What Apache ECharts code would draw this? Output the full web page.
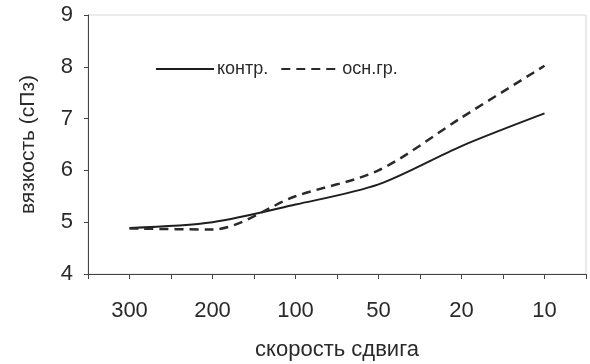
<!DOCTYPE html>
<html>
<head>
<meta charset="utf-8">
<script src="https://cdn.jsdelivr.net/npm/echarts@6/dist/echarts.min.js"></script>
<style>
  html, body { margin: 0; padding: 0; background: #fff; }
  #chart { width: 590px; height: 364px; }
</style>
</head>
<body>
<div id="chart"></div>
<script>
// скорость сдвига (категории)
const shearRates = ['300', '200', '100', '50', '20', '10']
// вязкость, сПз
const controlValues = [4.89, 5.0, 5.34, 5.73, 6.47, 7.1]
const mainValues = [4.88, 4.86, 5.5, 6.0, 7.02, 8.02]
const seriesNames = ['контр.', 'осн.гр.']

const font = 'Liberation Sans, Arial, sans-serif'
const axisColor = '#444'
const textColor = '#2a2a2a'

const chart = echarts.init(document.getElementById('chart'))

const option = {
  animation: false,
  backgroundColor: '#fff',
  textStyle: { fontFamily: font },
  grid: {
    left: 88,
    right: 4,
    top: 15,
    bottom: 90,
    containLabel: false,
    outerBoundsMode: 'none',
    show: true,
    borderColor: '#d8d8d8',
    borderWidth: 1
  },
  legend: {
    left: 150,
    top: 55,
    itemWidth: 58,
    itemHeight: 20,
    itemGap: 12,
    itemStyle: { opacity: 0 },
    textStyle: { fontSize: 18, color: textColor, fontFamily: font, padding: [0, 0, 0, -2] },
    data: seriesNames
  },
  xAxis: [
    {
      type: 'category',
      data: shearRates,
      boundaryGap: true,
      position: 'bottom',
      axisLine: { lineStyle: { color: axisColor, width: 1 } },
      axisTick: { show: true, length: 5, lineStyle: { color: axisColor } },
      axisLabel: { fontSize: 22, color: textColor, margin: 26, fontFamily: font },
      name: 'скорость сдвига',
      nameLocation: 'middle',
      nameGap: 65,
      nameTextStyle: { fontSize: 22, color: textColor, fontFamily: font }
    },
    {
      // промежуточные риски по центрам категорий
      type: 'category',
      data: shearRates,
      boundaryGap: true,
      position: 'bottom',
      axisLine: { show: false },
      axisTick: { show: true, alignWithLabel: true, length: 5, lineStyle: { color: axisColor } },
      axisLabel: { show: false },
      splitLine: { show: false }
    }
  ],
  yAxis: {
    type: 'value',
    min: 4,
    max: 9,
    interval: 1,
    splitLine: { show: false },
    axisLine: { show: true, lineStyle: { color: axisColor, width: 1 } },
    axisTick: { show: true, length: 4, lineStyle: { color: axisColor } },
    axisLabel: { fontSize: 22, color: textColor, margin: 15, fontFamily: font },
    name: 'вязкость (сПз)',
    nameLocation: 'middle',
    nameRotate: 90,
    nameGap: 49,
    nameTextStyle: { fontSize: 21, color: textColor, fontFamily: font }
  },
  series: [
    {
      name: seriesNames[0],
      type: 'line',
      xAxisIndex: 0,
      data: controlValues,
      smooth: 0.3,
      symbol: 'none',
      lineStyle: { color: '#1e1e1e', width: 2, type: 'solid' },
      itemStyle: { color: '#1e1e1e' }
    },
    {
      name: seriesNames[1],
      type: 'line',
      xAxisIndex: 0,
      data: mainValues,
      smooth: 0.3,
      symbol: 'none',
      lineStyle: { color: '#2a2a2a', width: 2.5, type: [9, 6] },
      itemStyle: { color: '#2a2a2a' }
    }
  ]
}

chart.setOption(option)
</script>
</body>
</html>
